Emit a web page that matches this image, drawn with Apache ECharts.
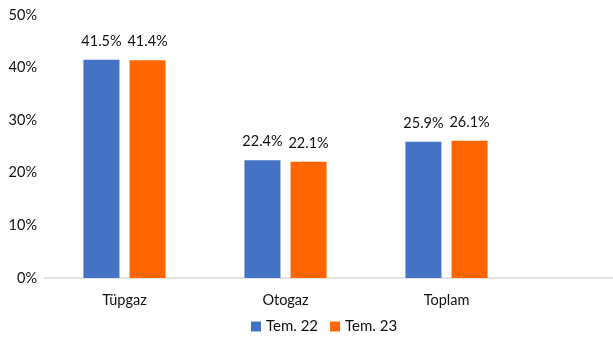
<!DOCTYPE html>
<html><head><meta charset="utf-8">
<script src="https://cdn.jsdelivr.net/npm/echarts@6/dist/echarts.min.js"></script>
<style>html,body{margin:0;padding:0;background:#fff}#c{width:613px;height:340px}</style>
</head><body><div id="c"></div>
<script>
const categories = ['Tüpgaz', 'Otogaz', 'Toplam'];
const seriesNames = ['Tem. 22', 'Tem. 23'];
const tem22 = [41.5, 22.4, 25.9];
const tem23 = [41.4, 22.1, 26.1];
const colors = ['#4472C4', '#FF6600'];
const FONT = 'Lato, "Open Sans", sans-serif';

const chart = echarts.init(document.getElementById('c'));
const lbl = {show: true, position: 'top', distance: 11, color: '#111', fontSize: 14.5, fontFamily: FONT,
  formatter: p => p.value.toFixed(1) + '%'};
chart.setOption({
  animation: false,
  grid: {left: 44, right: 86, top: 15, bottom: 62},
  legend: {bottom: 1, left: 246, itemWidth: 10, itemHeight: 10, itemGap: 12, itemTextGap: 4, icon: 'rect',
    textStyle: {fontSize: 15, fontFamily: FONT, color: '#111'}, data: seriesNames},
  xAxis: {type: 'category', data: categories,
    axisLine: {show: false}, axisTick: {show: false},
    axisLabel: {fontSize: 14.5, fontFamily: FONT, color: '#111', margin: 15}},
  yAxis: {type: 'value', min: 0, max: 50, interval: 10,
    splitLine: {show: false}, axisLine: {show: false}, axisTick: {show: false},
    axisLabel: {formatter: '{value}%', fontSize: 14.5, fontFamily: FONT, color: '#111', margin: 7}},
  graphic: [{type: 'line', shape: {x1: 44, y1: 278, x2: 613, y2: 278}, style: {stroke: '#D9D9D9', lineWidth: 1.5}, z: 0}],
  series: [
    {name: seriesNames[0], type: 'bar', data: tem22, itemStyle: {color: colors[0]}, barGap: '28%', barCategoryGap: '49%', label: lbl},
    {name: seriesNames[1], type: 'bar', data: tem23, itemStyle: {color: colors[1]}, label: lbl}
  ]
});
</script></body></html>
